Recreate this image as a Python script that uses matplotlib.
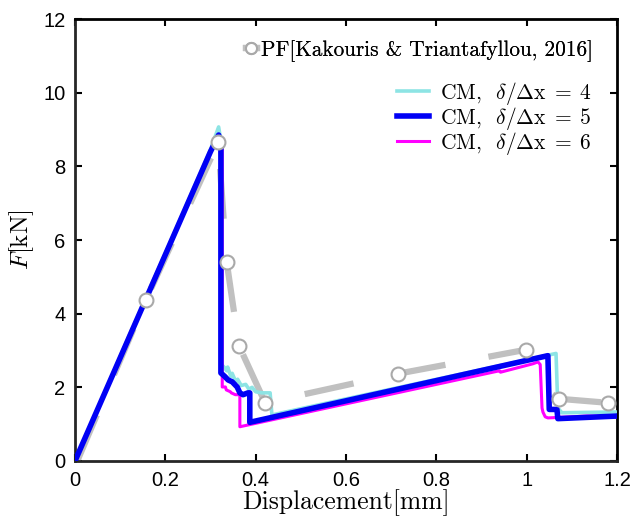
import matplotlib
matplotlib.use('Agg')
import matplotlib.pyplot as plt
from matplotlib.lines import Line2D

plt.rcParams['mathtext.fontset'] = 'cm'
plt.rcParams['font.family'] = ['Liberation Sans', 'DejaVu Sans']

# PF reference curve (Kakouris & Triantafyllou, 2016)
pf_x = [0.005, 0.157, 0.317, 0.336, 0.363, 0.421, 0.715, 0.998, 1.012, 1.071, 1.18]
pf_y = [0.0, 4.38, 8.65, 5.39, 3.13, 1.58, 2.37, 3.02, 2.20, 1.69, 1.58]
pf_marked = [1, 2, 3, 4, 5, 6, 7, 9, 10]

# CM, delta/dx = 4
cm4_x = [0, 0.300, 0.318, 0.323, 0.324, 0.330, 0.336, 0.338, 0.345, 0.348, 0.356, 0.360,
         0.368, 0.378, 0.385, 0.392, 0.400, 0.414, 0.432, 0.436, 1.065, 1.069, 1.078, 1.2]
cm4_y = [0, 8.45, 9.07, 8.70, 2.62, 2.55, 2.45, 2.55, 2.30, 2.38, 2.15, 2.22,
         2.05, 2.08, 1.95, 2.00, 1.88, 1.85, 1.85, 1.25, 2.92, 1.44, 1.31, 1.33]

# CM, delta/dx = 5
cm5_x = [0, 0.300, 0.318, 0.323, 0.323, 0.332, 0.339, 0.348, 0.359, 0.365, 0.372, 0.383,
         0.387, 0.387, 1.047, 1.050, 1.067, 1.069, 1.2]
cm5_y = [0, 8.40, 8.85, 8.60, 2.39, 2.29, 2.20, 2.15, 2.01, 1.85, 1.80, 1.85,
         1.85, 1.05, 2.86, 1.40, 1.40, 1.15, 1.22]

# CM, delta/dx = 6
cm6_x = [0, 0.300, 0.318, 0.326, 0.326, 0.333, 0.335, 0.344, 0.346, 0.355, 0.365, 0.365,
         0.940, 0.942, 1.014, 1.025, 1.030, 1.034, 1.036, 1.041, 1.047, 1.133, 1.2]
cm6_y = [0, 8.40, 8.80, 8.60, 2.01, 2.01, 1.93, 1.88, 1.85, 1.80, 1.80, 0.93,
         2.45, 2.41, 2.64, 2.69, 2.62, 1.44, 1.33, 1.20, 1.17, 1.22, 1.20]

fig = plt.figure(figsize=(6.32, 5.24), dpi=100)
ax = fig.add_axes([75 / 632, 63 / 524, 542 / 632, 442 / 524])

gray = '#c0c0c0'
pf_line, = ax.plot(pf_x, pf_y, color=gray, lw=4.5, dashes=(8, 7), zorder=2)
l4, = ax.plot(cm4_x, cm4_y, color='#8de4e4', lw=2.6, zorder=3)
l6, = ax.plot(cm6_x, cm6_y, color='#ff00ff', lw=2.2, zorder=3)
l5, = ax.plot(cm5_x, cm5_y, color='#0000f5', lw=4.0, zorder=4)
# markers on top of the CM curves
ax.plot([pf_x[i] for i in pf_marked], [pf_y[i] for i in pf_marked], 'o', ls='none',
        markersize=10, markerfacecolor='white', markeredgecolor='#a9a9a9',
        markeredgewidth=1.5, zorder=5)

ax.set_xlim(0, 1.2)
ax.set_ylim(0, 12)
ax.set_xticks([0, 0.2, 0.4, 0.6, 0.8, 1, 1.2])
ax.set_xticklabels(['0', '0.2', '0.4', '0.6', '0.8', '1', '1.2'])
ax.set_yticks([0, 2, 4, 6, 8, 10, 12])

ax.tick_params(direction='in', length=5, width=1.5, labelsize=14.5,
               top=True, right=True, pad=7)
for s in ['left', 'bottom']:
    ax.spines[s].set_color('#262626')
    ax.spines[s].set_linewidth(2)
for s in ['top', 'right']:
    ax.spines[s].set_color('black')
    ax.spines[s].set_linewidth(2)

ax.set_xlabel('Displacement[mm]', family='cmr10', fontsize=18.5, labelpad=0)
ax.set_ylabel(r'$F$[kN]', family='cmr10', fontsize=18, labelpad=5)

pf_handle = Line2D([], [], color=gray, lw=4.5, marker='o', markersize=8,
                   markerfacecolor='white', markeredgecolor='#a9a9a9', markeredgewidth=1.5)
leg1 = fig.legend([pf_handle], ['PF[Kakouris & Triantafyllou, 2016]'],
                  loc='upper right', bbox_to_anchor=(593 / 632, 1 - 40 / 524),
                  frameon=False, prop={'family': 'cmr10', 'size': 15.3},
                  handlelength=0.5, handletextpad=0.2,
                  borderpad=0, borderaxespad=0)
fig.add_artist(leg1)
fig.legend([l4, l5, l6],
           [r'CM,  $\delta/\Delta\mathrm{x}\;=\;4$',
            r'CM,  $\delta/\Delta\mathrm{x}\;=\;5$',
            r'CM,  $\delta/\Delta\mathrm{x}\;=\;6$'],
           loc='upper right', bbox_to_anchor=(592 / 632, 1 - 80 / 524),
           frameon=False, prop={'family': 'cmr10', 'size': 15.5},
           handlelength=1.5, handletextpad=0.5,
           labelspacing=-0.1, borderpad=0, borderaxespad=0)

fig.savefig('out.png', dpi=100)
